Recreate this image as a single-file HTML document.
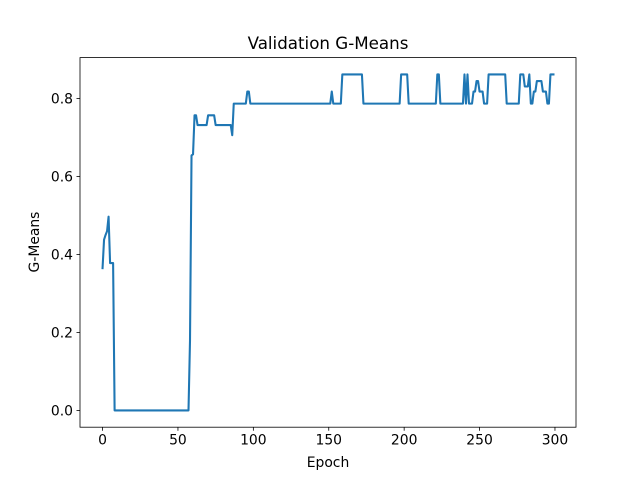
<!DOCTYPE html>
<html><head><meta charset="utf-8"><style>
html,body{margin:0;padding:0;background:#fff;}
svg{display:block;font-family:"DejaVu Sans","Liberation Sans",sans-serif;}
</style></head><body>
<svg id="chart" width="640" height="480" viewBox="0 0 640 480">
<rect width="640" height="480" fill="#fff"/>
<text x="328" y="49" font-size="16.7" text-anchor="middle" fill="#000">Validation G-Means</text>
<text x="328" y="467" font-size="13.9" text-anchor="middle" fill="#000">Epoch</text>
<text x="0" y="0" font-size="13.9" text-anchor="middle" fill="#000" transform="translate(39,242) rotate(-90)">G-Means</text>
<g id="ticks"></g>
<polyline id="line" fill="none" stroke="#1f77b4" stroke-width="2.08" stroke-linejoin="round" stroke-linecap="square"/>
<rect x="80" y="57.6" width="496" height="369.6" fill="none" stroke="#000" stroke-width="0.8"/>
</svg>
<script>
const xTicks=[0,50,100,150,200,250,300];
const yTicks=[0.0,0.2,0.4,0.6,0.8];
const yTickLabels=["0.0","0.2","0.4","0.6","0.8"];
const values=[0.365,0.438,0.45,0.46,0.497,0.378,0.378,0.378,
0,0,0,0,0,0,0,0,0,0,
0,0,0,0,0,0,0,0,0,0,
0,0,0,0,0,0,0,0,0,0,
0,0,0,0,0,0,0,0,0,0,
0,0,0,0,0,0,0,0,0,0,
0.18,0.654,0.657,0.757,0.757,
0.732,0.732,0.732,0.732,0.732,0.732,0.732,
0.757,0.757,0.757,0.757,0.757,
0.732,0.732,0.732,0.732,0.732,0.732,0.732,0.732,0.732,0.732,0.732,
0.706,
0.787,0.787,0.787,0.787,0.787,0.787,0.787,0.787,0.787,
0.818,0.818,
0.787,0.787,0.787,0.787,0.787,0.787,0.787,0.787,0.787,0.787,
0.787,0.787,0.787,0.787,0.787,0.787,0.787,0.787,0.787,0.787,
0.787,0.787,0.787,0.787,0.787,0.787,0.787,0.787,0.787,0.787,
0.787,0.787,0.787,0.787,0.787,0.787,0.787,0.787,0.787,0.787,
0.787,0.787,0.787,0.787,0.787,0.787,0.787,0.787,0.787,0.787,
0.787,0.787,0.787,0.787,
0.818,
0.787,0.787,0.787,0.787,0.787,0.787,
0.862,0.862,0.862,0.862,0.862,0.862,0.862,0.862,0.862,0.862,0.862,0.862,0.862,0.862,
0.787,0.787,0.787,0.787,0.787,0.787,0.787,0.787,0.787,0.787,
0.787,0.787,0.787,0.787,0.787,0.787,0.787,0.787,0.787,0.787,
0.787,0.787,0.787,0.787,0.787,
0.862,0.862,0.862,0.862,0.862,
0.787,0.787,0.787,0.787,0.787,0.787,0.787,0.787,0.787,0.787,
0.787,0.787,0.787,0.787,0.787,0.787,0.787,0.787,0.787,
0.862,0.862,
0.787,0.787,0.787,0.787,0.787,0.787,0.787,0.787,0.787,0.787,0.787,0.787,0.787,0.787,0.787,0.787,
0.862,0.787,0.862,0.787,0.787,0.787,0.818,0.818,0.845,0.845,0.818,0.818,0.818,0.787,0.787,0.787,
0.862,0.862,0.862,0.862,0.862,0.862,0.862,0.862,0.862,0.862,0.862,0.862,
0.787,0.787,0.787,0.787,0.787,0.787,0.787,0.787,0.787,
0.862,0.862,0.862,0.831,0.831,0.831,0.862,0.787,0.787,0.818,0.818,0.845,0.845,0.845,0.845,0.818,0.818,0.818,0.787,0.787,0.862,0.862,0.862];

const L=80,R=576,T=57.6,B=427.2;
const n=values.length;
const xmin=0,xmax=n-1;
const ymin=Math.min(...values),ymax=Math.max(...values);
const xm=(xmax-xmin)*0.05,ym=(ymax-ymin)*0.05;
function xs(v){return L+(v-(xmin-xm))/((xmax+xm)-(xmin-xm))*(R-L);}
function ys(v){return B-(v-(ymin-ym))/((ymax+ym)-(ymin-ym))*(B-T);}
const NS="http://www.w3.org/2000/svg";
const g=document.getElementById('ticks');
xTicks.forEach(t=>{
  const x=xs(t);
  const l=document.createElementNS(NS,'line');
  l.setAttribute('x1',x);l.setAttribute('x2',x);l.setAttribute('y1',B);l.setAttribute('y2',B+3.5);
  l.setAttribute('stroke','#000');l.setAttribute('stroke-width','0.8');
  
  
  g.appendChild(l);
  const tx=document.createElementNS(NS,'text');
  tx.setAttribute('x',x);tx.setAttribute('y',B+17.5);tx.setAttribute('font-size','13.9');tx.setAttribute('text-anchor','middle');
  tx.textContent=String(t);
  
  
  g.appendChild(tx);
});
yTicks.forEach((t,i)=>{
  const y=ys(t);
  const l=document.createElementNS(NS,'line');
  l.setAttribute('x1',L-3.5);l.setAttribute('x2',L);l.setAttribute('y1',y);l.setAttribute('y2',y);
  l.setAttribute('stroke','#000');l.setAttribute('stroke-width','0.8');
  
  
  g.appendChild(l);
  const tx=document.createElementNS(NS,'text');
  tx.setAttribute('x',L-7);tx.setAttribute('y',y+5);tx.setAttribute('font-size','13.9');tx.setAttribute('text-anchor','end');
  tx.textContent=yTickLabels[i];
  
  
  g.appendChild(tx);
});
document.getElementById('line').setAttribute('points',values.map((v,i)=>xs(i).toFixed(2)+','+ys(v).toFixed(2)).join(' '));
</script>
</body></html>
